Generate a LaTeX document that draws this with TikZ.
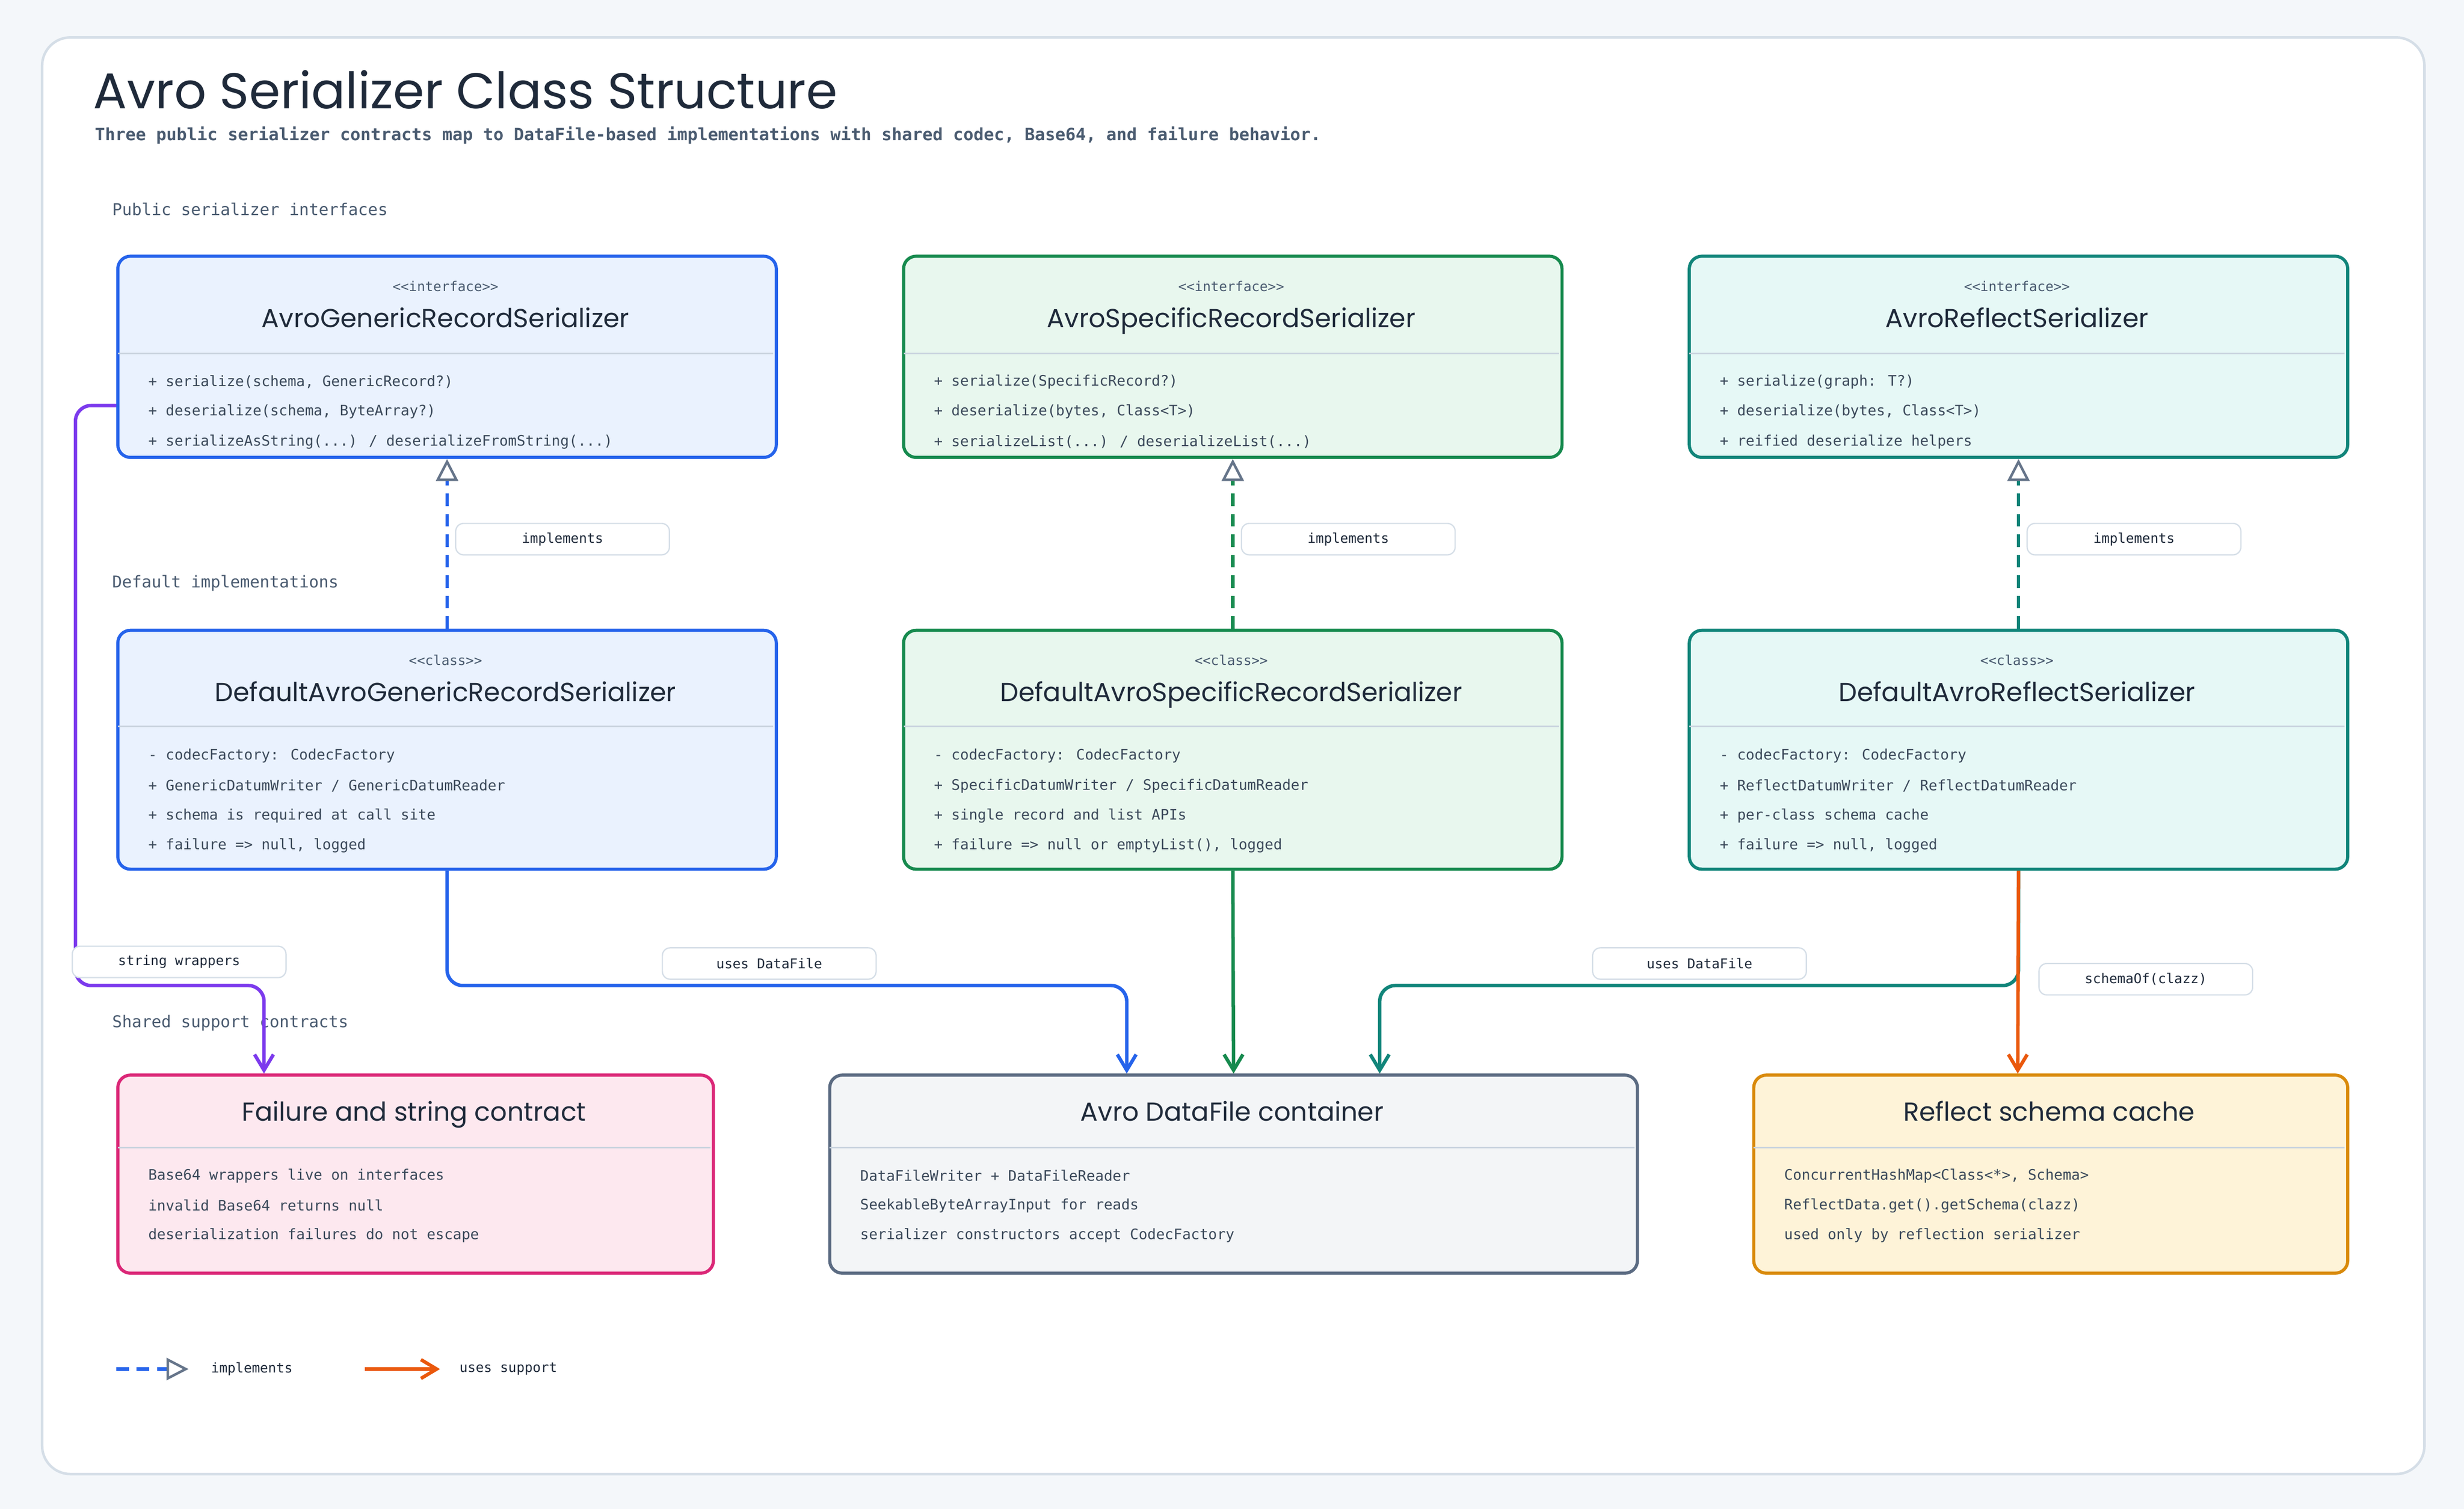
\documentclass[tikz,border=0pt]{standalone}
\usepackage{fontspec}
\setmainfont{DejaVu Sans Mono}
\newfontfamily\hand{Poppins}
\usetikzlibrary{arrows.meta}
\definecolor{bg}{HTML}{F4F7FA}
\definecolor{frame}{HTML}{D5DEE7}
\definecolor{ink}{HTML}{1F2A3A}
\definecolor{sub}{HTML}{4A5B70}
\definecolor{cblue}{HTML}{2563EB}\definecolor{fblue}{HTML}{EAF2FE}
\definecolor{cgreen}{HTML}{168A4E}\definecolor{fgreen}{HTML}{E8F7EE}
\definecolor{cteal}{HTML}{11857A}\definecolor{fteal}{HTML}{E6F8F6}
\definecolor{cpink}{HTML}{DB2777}\definecolor{fpink}{HTML}{FDE8EF}
\definecolor{cgray}{HTML}{5B6B82}\definecolor{fgray}{HTML}{F3F5F7}
\definecolor{cyel}{HTML}{D98A0B}\definecolor{fyel}{HTML}{FEF3D8}
\definecolor{corange}{HTML}{EA580C}
\definecolor{cpurple}{HTML}{7C3AED}
\definecolor{divc}{HTML}{C9D3DE}
\definecolor{tri}{HTML}{66758A}
\tikzset{
 box/.style={draw=#1,line width=1pt,rounded corners=4pt,anchor=north west,inner sep=0pt},
 stereo/.style={font=\fontsize{4.3}{5}\selectfont,text=sub},
 cname/.style={font=\hand\fontsize{8.3}{10}\selectfont,text=ink,text height=6pt,text depth=1.8pt,inner sep=0pt},
 item/.style={font=\fontsize{4.6}{6}\selectfont,text=sub!80!black,anchor=west,inner sep=0pt},
 sect/.style={font=\fontsize{5.2}{7}\selectfont,text=sub,anchor=west,inner sep=0pt},
 lbl/.style={draw=frame,fill=white,rounded corners=2.5pt,font=\fontsize{4.3}{5}\selectfont,text=ink,minimum width=68pt,minimum height=10pt,inner sep=0pt},
 impl/.style={line width=1.1pt,dash pattern=on 4pt off 2.5pt,-{Triangle[open,length=7pt,width=7pt,fill=white,color=tri,line width=0.8pt]}},
 uses/.style={line width=1.1pt,-{Straight Barb[length=5pt,width=6pt]},rounded corners=5pt},
 divline/.style={draw=divc,line width=0.5pt}
}
\begin{document}
\begin{tikzpicture}[x=0.5pt,y=-0.5pt]
\useasboundingbox[fill=bg] (0,0) rectangle (1568,960);
\node[draw=frame,fill=white,line width=0.8pt,rounded corners=9pt,minimum width=758pt,minimum height=457pt,anchor=north west] (frame) at (26,23) {};
\node[anchor=west,font=\hand\fontsize{16}{19}\selectfont,text=ink,inner sep=0pt] (title) at (59,57) {Avro Serializer Class Structure};
\node[anchor=west,font=\bfseries\fontsize{5.4}{7}\selectfont,text=sub,inner sep=0pt] (subt) at (60,86) {Three public serializer contracts map to DataFile-based implementations with shared codec, Base64, and failure behavior.};
\node[sect] (s1) at (71,133) {Public serializer interfaces};
\node[sect] (s2) at (71,371) {Default implementations};
\node[sect] (s3) at (71,651) {Shared support contracts};

% row 1
\foreach \n/\x/\c/\f/\t/\a/\b/\cc in {ag/74/cblue/fblue/AvroGenericRecordSerializer/{+ serialize(schema, GenericRecord?)}/{+ deserialize(schema, ByteArray?)}/{+ serializeAsString(...) / deserializeFromString(...)},
 as/574/cgreen/fgreen/AvroSpecificRecordSerializer/{+ serialize(SpecificRecord?)}/{+ deserialize(bytes, Class<T>)}/{+ serializeList(...) / deserializeList(...)},
 ar/1074/cteal/fteal/AvroReflectSerializer/{+ serialize(graph: T?)}/{+ deserialize(bytes, Class<T>)}/{+ reified deserialize helpers}}{
 \node[box=\c,fill=\f,minimum width=209.5pt,minimum height=64pt] (\n) at (\x,162) {};
 \draw[divline] (\x+1,225) -- (\x+418,225);
 \node[stereo] (\n-st) at (\x+209.5,182) {<{}<interface>{}>};
 \node[cname] (\n-nm) at (\x+209.5,204) {\t};
 \node[item] (\n-i1) at (\x+20,243) {\a};
 \node[item] (\n-i2) at (\x+20,262) {\b};
 \node[item] (\n-i3) at (\x+20,281) {\cc};
}
% row 2
\foreach \n/\x/\c/\f/\t/\a/\b/\cc/\d in {dg/74/cblue/fblue/DefaultAvroGenericRecordSerializer/{+ GenericDatumWriter / GenericDatumReader}/{+ schema is required at call site}/{+ failure => null, logged},
 ds/574/cgreen/fgreen/DefaultAvroSpecificRecordSerializer/{+ SpecificDatumWriter / SpecificDatumReader}/{+ single record and list APIs}/{+ failure => null or emptyList(), logged},
 dr/1074/cteal/fteal/DefaultAvroReflectSerializer/{+ ReflectDatumWriter / ReflectDatumReader}/{+ per-class schema cache}/{+ failure => null, logged}}{
 \node[box=\c,fill=\f,minimum width=209.5pt,minimum height=76pt] (\n) at (\x,400) {};
 \draw[divline] (\x+1,462) -- (\x+418,462);
 \node[stereo] (\n-st) at (\x+209.5,420) {<{}<class>{}>};
 \node[cname] (\n-nm) at (\x+209.5,442) {\t};
 \node[item] (\n-i0) at (\x+20,481) {- codecFactory: CodecFactory};
 \node[item] (\n-i1) at (\x+20,500) {\a};
 \node[item] (\n-i2) at (\x+20,519) {\b};
 \node[item] (\n-i3) at (\x+20,538) {\cc};
}
% row 3
\node[box=cpink,fill=fpink,minimum width=189.5pt,minimum height=63pt] (fc) at (74,683) {};
\node[cname] (fc-nm) at (263.5,709) {Failure and string contract};
\draw[divline] (75,730) -- (452,730);
\node[item] (fc-i1) at (94,748) {Base64 wrappers live on interfaces};
\node[item] (fc-i2) at (94,767) {invalid Base64 returns null};
\node[item] (fc-i3) at (94,786) {deserialization failures do not escape};

\node[box=cgray,fill=fgray,minimum width=257pt,minimum height=63pt] (dc) at (527,683) {};
\node[cname] (dc-nm) at (784,709) {Avro DataFile container};
\draw[divline] (528,730) -- (1040,730);
\node[item] (dc-i1) at (547,748) {DataFileWriter + DataFileReader};
\node[item] (dc-i2) at (547,767) {SeekableByteArrayInput for reads};
\node[item] (dc-i3) at (547,786) {serializer constructors accept CodecFactory};

\node[box=cyel,fill=fyel,minimum width=189pt,minimum height=63pt] (rc) at (1115,683) {};
\node[cname] (rc-nm) at (1304,709) {Reflect schema cache};
\draw[divline] (1116,730) -- (1492,730);
\node[item] (rc-i1) at (1135,748) {ConcurrentHashMap<Class<*>, Schema>};
\node[item] (rc-i2) at (1135,767) {ReflectData.get().getSchema(clazz)};
\node[item] (rc-i3) at (1135,786) {used only by reflection serializer};

% implements
\draw[impl,draw=cblue] (dg.north) -- (ag.south);
\draw[impl,draw=cgreen] (ds.north) -- (as.south);
\draw[impl,draw=cteal] (dr.north) -- (ar.south);
\node[lbl] (l1) at (358,343) {implements};
\node[lbl] (l2) at (858,343) {implements};
\node[lbl] (l3) at (1358,343) {implements};

% uses
\coordinate (bj) at (717,627); \coordinate (be) at (717,683);
\draw[uses,draw=cblue] (dg.south) |- (bj) -- (be);
\draw[uses,draw=cgreen] (ds.south) -- (dc.north);
\coordinate (tj) at (878,627); \coordinate (te) at (878,683);
\draw[uses,draw=cteal] (dr.south) |- (tj) -- (te);
\coordinate (oe) at (1284,683);
\draw[uses,draw=corange] (dr.south) -- (oe);
\coordinate (p1) at (48,258); \coordinate (p2) at (168,627); \coordinate (pe) at (168,683);
\draw[uses,draw=cpurple] (ag.west |- p1) -| (p1 |- p2) -- (p2) -- (pe);
\node[lbl] (l4) at (489.5,613) {uses DataFile};
\node[lbl] (l5) at (1081.5,613) {uses DataFile};
\node[lbl] (l6) at (1365.5,623) {schemaOf(clazz)};
\node[lbl] (l7) at (114,612) {string wrappers};

% legend
\coordinate (la) at (74,871); \coordinate (lb) at (120,871);
\draw[impl,draw=cblue] (la) -- (lb);
\node[item,font=\fontsize{4.3}{5}\selectfont,text=ink] (lt1) at (134,871) {implements};
\coordinate (lc) at (232,871); \coordinate (ld) at (280,871);
\draw[uses,draw=corange] (lc) -- (ld);
\node[item,font=\fontsize{4.3}{5}\selectfont,text=ink] (lt2) at (292,871) {uses support};
\end{tikzpicture}
\end{document}
